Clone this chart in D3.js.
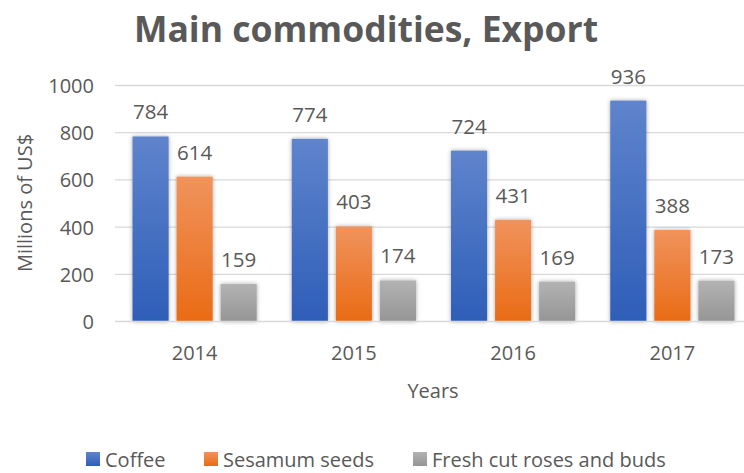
<!DOCTYPE html>
<html>
<head>
<meta charset="utf-8">
<script src="https://d3js.org/d3.v7.min.js"></script>
<style>
  body { margin: 0; background: #fff; }
  text { font-family: "Open Sans", sans-serif; fill: #595959; }
</style>
</head>
<body>
<div id="chart"></div>
<script>
// data
var years = ["2014", "2015", "2016", "2017"];
var series = ["Coffee", "Sesamum seeds", "Fresh cut roses and buds"];
var coffee = [784, 774, 724, 936];
var sesamum = [614, 403, 431, 388];
var roses = [159, 174, 169, 173];
var yTicks = [0, 200, 400, 600, 800, 1000];

var values = [coffee, sesamum, roses];
var colTop = ["#5f84cc", "#f0935c", "#b3b3b3"];
var colBot = ["#2e5eb8", "#ea6b15", "#959595"];

var w = 744, h = 473;

var svg = d3.select("#chart").append("svg")
  .attr("width", w)
  .attr("height", h);

var defs = svg.append("defs");
series.forEach(function(s, i) {
  var g = defs.append("linearGradient")
    .attr("id", "grad" + i)
    .attr("x1", 0).attr("y1", 0).attr("x2", 0).attr("y2", 1);
  g.append("stop").attr("offset", "0%").attr("stop-color", colTop[i]);
  g.append("stop").attr("offset", "100%").attr("stop-color", colBot[i]);
});
var f = defs.append("filter").attr("id", "shadow")
  .attr("x", "-30%").attr("y", "-10%").attr("width", "160%").attr("height", "120%");
f.append("feDropShadow")
  .attr("dx", 0).attr("dy", 0)
  .attr("stdDeviation", 2.2)
  .attr("flood-color", "#000")
  .attr("flood-opacity", 0.35);

var x0 = d3.scaleBand()
  .domain(years)
  .range([115, 752])
  .paddingInner(0.22)
  .paddingOuter(0.11);

var x1 = d3.scaleBand()
  .domain(d3.range(series.length))
  .range([0, x0.bandwidth()])
  .paddingInner(0.18);

var y = d3.scaleLinear()
  .domain([0, 1000])
  .range([321.5, 85.5]);

// gridlines
svg.append("g").selectAll("line")
  .data(yTicks.slice(1))
  .enter().append("line")
  .attr("x1", 115).attr("x2", w)
  .attr("y1", d => y(d)).attr("y2", d => y(d))
  .attr("stroke", "#d9d9d9")
  .attr("stroke-width", 1.3);

// y axis labels
var yAxis = d3.axisLeft(y).tickValues(yTicks).tickFormat(d3.format("d")).tickSize(0).tickPadding(0);
var ya = svg.append("g")
  .attr("transform", "translate(94,0)")
  .call(yAxis);
ya.select(".domain").remove();
ya.selectAll("text")
  .attr("dy", null).attr("y", 7)
  .style("font-size", "20px")
  .attr("fill", "#595959");

// bars
var groups = svg.append("g").selectAll("g")
  .data(years)
  .enter().append("g")
  .attr("transform", d => "translate(" + x0(d) + ",0)");

series.forEach(function(s, si) {
  groups.append("rect")
    .attr("x", x1(si))
    .attr("y", (d, i) => y(values[si][i]))
    .attr("width", x1.bandwidth())
    .attr("height", (d, i) => y(0) - y(values[si][i]))
    .attr("fill", "url(#grad" + si + ")")
    .attr("filter", "url(#shadow)");
  groups.append("text")
    .attr("x", x1(si) + x1.bandwidth() / 2)
    .attr("y", (d, i) => y(values[si][i]) - 17)
    .attr("text-anchor", "middle")
    .style("font-size", "20.5px")
    .text((d, i) => values[si][i]);
});

// x axis
svg.append("line")
  .attr("x1", 115).attr("x2", w)
  .attr("y1", y(0)).attr("y2", y(0))
  .attr("stroke", "#d9d9d9")
  .attr("stroke-width", 1.3);

var xAxis = d3.axisBottom(x0).tickSize(0).tickPadding(0);
var xa = svg.append("g")
  .attr("transform", "translate(0,360)")
  .call(xAxis);
xa.select(".domain").remove();
xa.selectAll("text")
  .attr("dy", null).attr("y", 0)
  .style("font-size", "20px")
  .attr("fill", "#595959");

// axis titles
svg.append("text")
  .attr("text-anchor", "middle")
  .attr("x", 433).attr("y", 398)
  .style("font-size", "20px")
  .text("Years");

svg.append("text")
  .attr("text-anchor", "middle")
  .attr("transform", "translate(32,203)rotate(-90)")
  .style("font-size", "20px")
  .text("Millions of US$");

// title
svg.append("text")
  .attr("text-anchor", "middle")
  .attr("x", 366).attr("y", 42)
  .style("font-size", "35.5px")
  .style("font-weight", "bold")
  .text("Main commodities, Export");

// legend
var legX = [86, 204, 413];
var leg = svg.append("g").selectAll("g")
  .data(series)
  .enter().append("g")
  .attr("transform", (d, i) => "translate(" + legX[i] + ",452)");
leg.append("rect")
  .attr("width", 14).attr("height", 14)
  .attr("fill", (d, i) => "url(#grad" + i + ")");
leg.append("text")
  .attr("x", 19).attr("y", 15)
  .style("font-size", "20px")
  .text(d => d);
</script>
</body>
</html>
